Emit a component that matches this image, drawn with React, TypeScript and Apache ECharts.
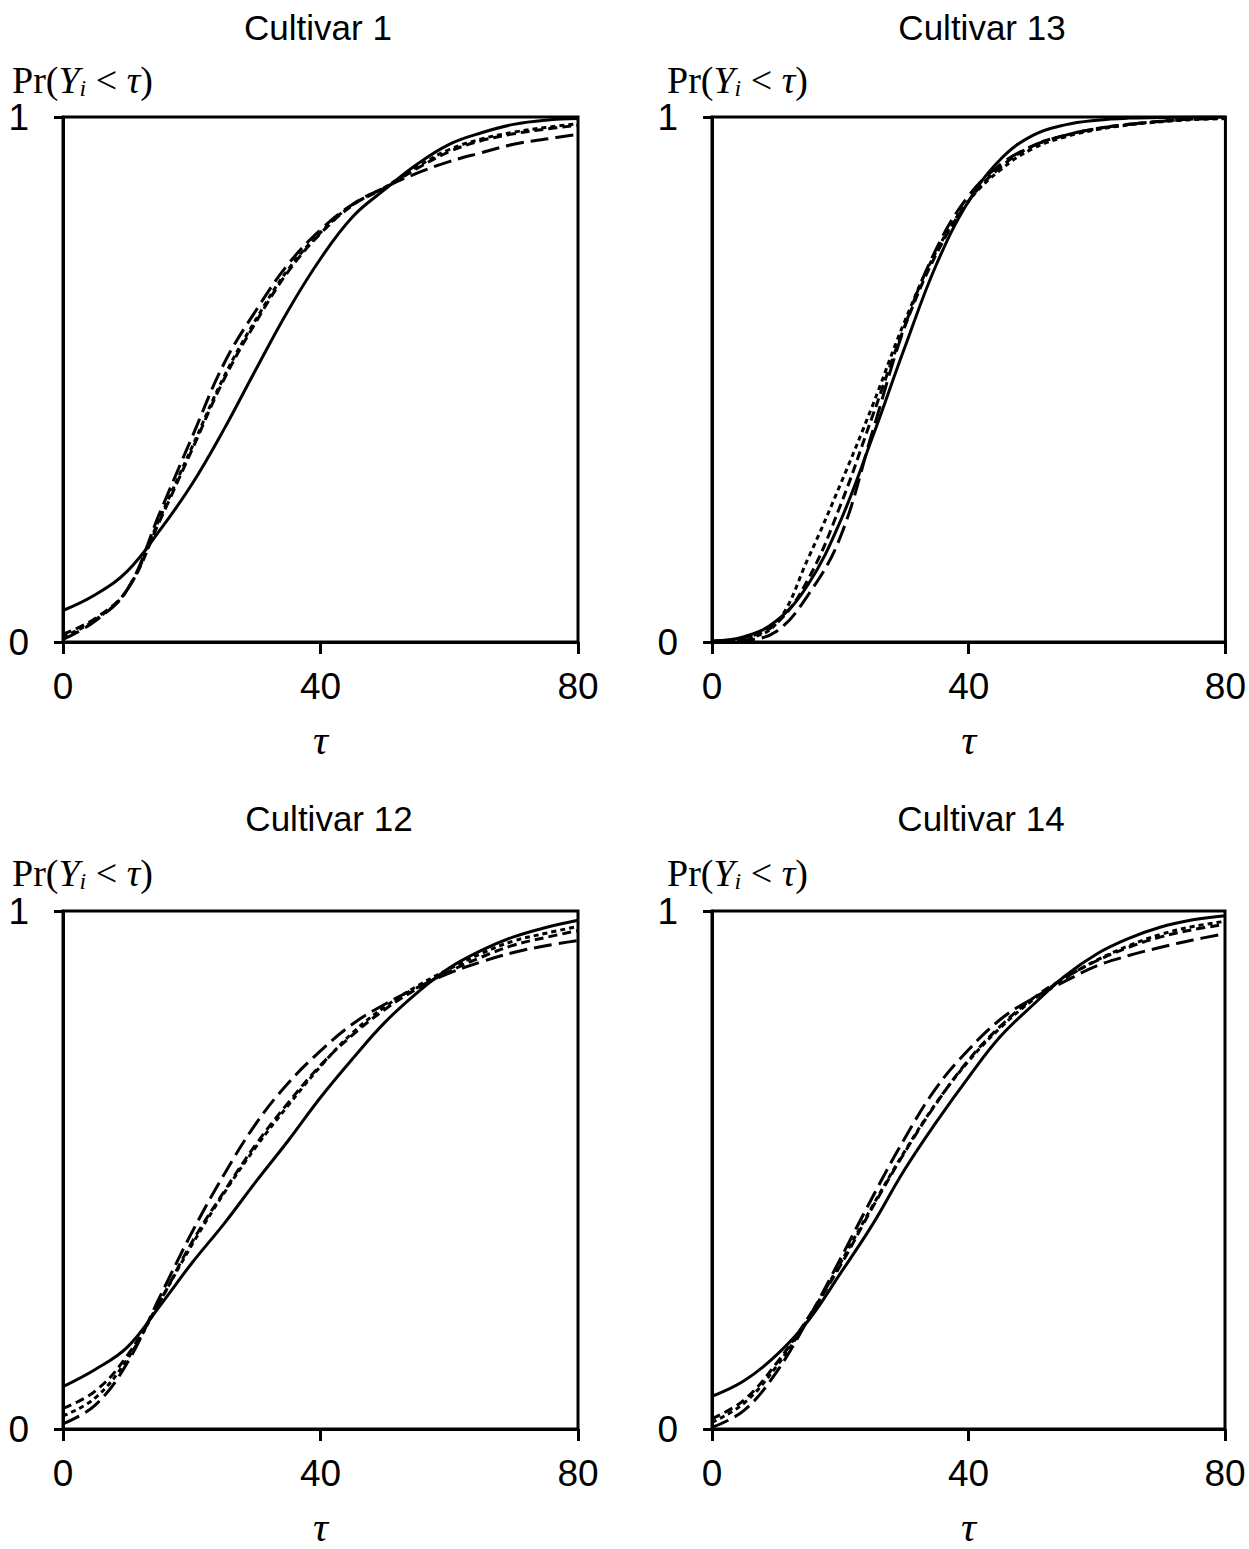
import React, { useEffect, useRef } from "react";
import * as echarts from "echarts";

const tau = [0, 5, 10, 15, 20, 25, 30, 35, 40, 45, 50, 55, 60, 65, 70, 75, 80];
const titles = ["Cultivar 1", "Cultivar 13", "Cultivar 12", "Cultivar 14"];
const xTickLabels = ["0", "40", "80"];
const yTickLabels = ["0", "1"];

// Cultivar 1
const c1Solid = [0.06, 0.09, 0.135, 0.212, 0.3, 0.405, 0.52, 0.632, 0.73, 0.81, 0.862, 0.91, 0.948, 0.97, 0.986, 0.994, 0.997];
const c1Short = [0.01, 0.042, 0.1, 0.235, 0.37, 0.505, 0.615, 0.71, 0.78, 0.833, 0.866, 0.905, 0.938, 0.958, 0.971, 0.98, 0.987];
const c1Medium = [0.015, 0.045, 0.1, 0.23, 0.365, 0.5, 0.61, 0.706, 0.778, 0.832, 0.865, 0.902, 0.934, 0.955, 0.968, 0.977, 0.984];
const c1Long = [0.005, 0.04, 0.1, 0.245, 0.389, 0.53, 0.632, 0.72, 0.785, 0.834, 0.866, 0.893, 0.915, 0.932, 0.948, 0.958, 0.967];

// Cultivar 13
const c13Solid = [0.002, 0.01, 0.04, 0.11, 0.23, 0.39, 0.56, 0.72, 0.84, 0.92, 0.965, 0.985, 0.994, 0.998, 0.999, 1, 1];
const c13Short = [0.001, 0.006, 0.035, 0.16, 0.3, 0.45, 0.61, 0.745, 0.84, 0.9, 0.94, 0.962, 0.976, 0.985, 0.991, 0.995, 0.997];
const c13Medium = [0.002, 0.008, 0.035, 0.12, 0.26, 0.43, 0.6, 0.74, 0.84, 0.905, 0.945, 0.965, 0.978, 0.986, 0.992, 0.996, 0.998];
const c13Long = [0.0, 0.003, 0.02, 0.09, 0.2, 0.4, 0.6, 0.75, 0.85, 0.91, 0.945, 0.965, 0.978, 0.986, 0.992, 0.996, 0.998];

// Cultivar 12
const c12Solid = [0.082, 0.115, 0.158, 0.237, 0.32, 0.396, 0.478, 0.557, 0.64, 0.715, 0.785, 0.842, 0.89, 0.924, 0.95, 0.968, 0.982];
const c12Short = [0.025, 0.06, 0.135, 0.245, 0.355, 0.455, 0.545, 0.625, 0.7, 0.765, 0.815, 0.855, 0.888, 0.918, 0.942, 0.957, 0.97];
const c12Medium = [0.04, 0.073, 0.142, 0.245, 0.36, 0.458, 0.55, 0.63, 0.702, 0.761, 0.81, 0.85, 0.883, 0.911, 0.934, 0.949, 0.962];
const c12Long = [0.01, 0.046, 0.128, 0.254, 0.379, 0.491, 0.59, 0.668, 0.73, 0.782, 0.82, 0.852, 0.88, 0.902, 0.92, 0.933, 0.943];

// Cultivar 14
const c14Solid = [0.063, 0.093, 0.142, 0.209, 0.3, 0.394, 0.5, 0.593, 0.679, 0.758, 0.818, 0.874, 0.917, 0.947, 0.969, 0.983, 0.991];
const c14Short = [0.013, 0.05, 0.12, 0.213, 0.32, 0.43, 0.535, 0.63, 0.71, 0.775, 0.828, 0.87, 0.905, 0.933, 0.955, 0.97, 0.98];
const c14Medium = [0.02, 0.056, 0.126, 0.215, 0.315, 0.427, 0.533, 0.629, 0.712, 0.778, 0.831, 0.871, 0.904, 0.93, 0.95, 0.964, 0.974];
const c14Long = [0.003, 0.036, 0.109, 0.212, 0.328, 0.447, 0.56, 0.659, 0.732, 0.791, 0.831, 0.864, 0.894, 0.914, 0.93, 0.944, 0.956];

const panels = [
  [c1Solid, c1Short, c1Medium, c1Long],
  [c13Solid, c13Short, c13Medium, c13Long],
  [c12Solid, c12Short, c12Medium, c12Long],
  [c14Solid, c14Short, c14Medium, c14Long],
];

const lineTypes: any[] = ["solid", [5, 4], [9, 5], [18, 7]];

const gridPos = [
  { left: 63, top: 117, width: 515, height: 525 },
  { left: 712, top: 117, width: 516, height: 525 },
  { left: 63, top: 911, width: 515, height: 525 },
  { left: 712, top: 911, width: 513, height: 525 },
];
const titlePos = [
  [318, 27],
  [982, 27],
  [329, 818],
  [981, 818],
];
const yNamePos = [
  [12, 80],
  [667, 80],
  [12, 873],
  [667, 873],
];

const SANS = "'Liberation Sans', Arial, sans-serif";
const SERIF = "'Liberation Serif', 'Times New Roman', serif";

export default function App() {
  const ref = useRef<HTMLDivElement>(null);
  useEffect(() => {
    const chart = echarts.init(ref.current!, null, { renderer: "svg" });
    const axisLineStyle = { color: "#000", width: 3 };
    const option: any = {
      animation: false,
      backgroundColor: "#fff",
      grid: gridPos.map((g) => ({
        ...g,
        show: true,
        borderColor: "#000",
        borderWidth: 3,
        backgroundColor: "transparent",
      })),
      xAxis: gridPos.map((_, i) => ({
        type: "value",
        gridIndex: i,
        min: 0,
        max: 80,
        interval: 40,
        axisLine: { show: true, onZero: false, lineStyle: axisLineStyle },
        axisTick: { show: true, length: 12, lineStyle: axisLineStyle },
        axisLabel: {
          margin: 26,
          fontSize: 37,
          color: "#000",
          fontFamily: SANS,
          formatter: (v: number) => xTickLabels[Math.round(v / 40)],
        },
        splitLine: { show: false },
        name: "τ",
        nameLocation: "middle",
        nameGap: 77,
        nameTextStyle: { fontFamily: SERIF, fontStyle: "italic", fontSize: 42, color: "#000" },
      })),
      yAxis: gridPos.map((_, i) => ({
        type: "value",
        gridIndex: i,
        min: 0,
        max: 1,
        interval: 1,
        axisLine: { show: true, onZero: false, lineStyle: axisLineStyle },
        axisTick: { show: true, length: 9, lineStyle: axisLineStyle },
        axisLabel: {
          margin: 34,
          fontSize: 37,
          color: "#000",
          fontFamily: SANS,
          formatter: (v: number) => yTickLabels[Math.round(v)],
        },
        splitLine: { show: false },
      })),
      series: panels.flatMap((arrs, i) =>
        arrs.map((arr, k) => ({
          type: "line",
          xAxisIndex: i,
          yAxisIndex: i,
          showSymbol: false,
          smooth: 0.4,
          data: tau.map((t, j) => [t, arr[j]]),
          lineStyle: { color: "#000", width: 3, type: lineTypes[k] },
        }))
      ),
      graphic: [
        ...titles.map((t, i) => ({
          type: "text",
          x: titlePos[i][0],
          y: titlePos[i][1],
          style: {
            text: t,
            fontFamily: SANS,
            fontSize: 35,
            fill: "#000",
            align: "center",
            verticalAlign: "middle",
          },
        })),
        ...yNamePos.map((p) => ({
          type: "text",
          x: p[0],
          y: p[1],
          style: {
            text: "{n|Pr(}{it|Y}{sub|i}{n| < }{it|τ}{n|)}",
            fill: "#000",
            verticalAlign: "middle",
            rich: {
              n: { fontFamily: SERIF, fontSize: 38, fill: "#000", lineHeight: 44 },
              it: { fontFamily: SERIF, fontSize: 38, fontStyle: "italic", fill: "#000", lineHeight: 44 },
              sub: {
                fontFamily: SERIF,
                fontSize: 24,
                fontStyle: "italic",
                fill: "#000",
                lineHeight: 44,
                padding: [16, 0, 0, 0],
              },
            },
          },
        })),
      ],
    };
    chart.setOption(option);
    return () => chart.dispose();
  }, []);
  return (
    <div
      ref={ref}
      style={{ position: "absolute", left: 0, top: 0, width: 1249, height: 1549, background: "#fff" }}
    />
  );
}
